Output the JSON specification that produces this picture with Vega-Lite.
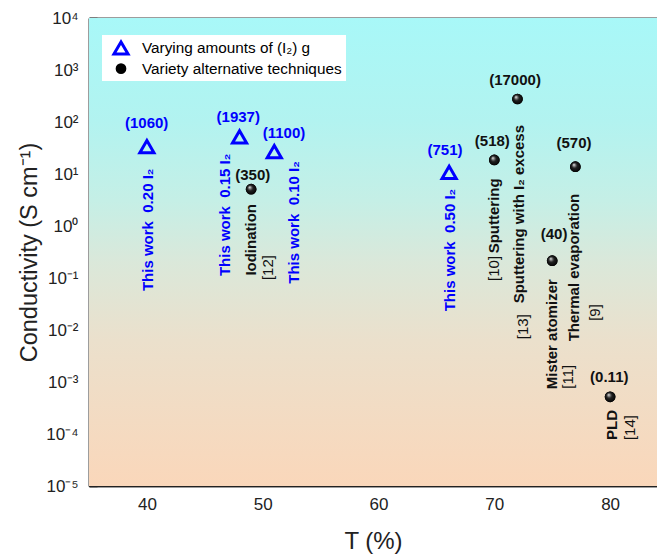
{
  "$schema": "https://vega.github.io/schema/vega-lite/v6.json",
  "width": 568,
  "height": 468,
  "autosize": {"type": "none"},
  "padding": {"left": 89, "top": 18, "right": 0, "bottom": 70},
  "config": {
    "font": "Liberation Sans",
    "view": {"stroke": null},
    "axis": {"domainColor": "#222222", "domainWidth": 1.5, "tickColor": "#222222", "tickWidth": 1.5, "grid": false, "labelColor": "#222222", "titleColor": "#222222"},
    "legend": {"orient": "none", "legendX": 13, "legendY": 17, "fillColor": "#ffffff", "padding": 4, "labelFontSize": 15.3, "symbolSize": 200, "rowPadding": 0, "labelLimit": 400, "labelOffset": 12, "symbolOffset": 6}
  },
  "datasets": {
    "points": [
      {"T": 40, "sigma": 33.5, "group": "Varying amounts of (I₂) g"},
      {"T": 48, "sigma": 52, "group": "Varying amounts of (I₂) g"},
      {"T": 51, "sigma": 27, "group": "Varying amounts of (I₂) g"},
      {"T": 66.1, "sigma": 10.8, "group": "Varying amounts of (I₂) g"},
      {"T": 49, "sigma": 5.1, "group": "Variety alternative techniques"},
      {"T": 70, "sigma": 18.6, "group": "Variety alternative techniques"},
      {"T": 72, "sigma": 277, "group": "Variety alternative techniques"},
      {"T": 75, "sigma": 0.215, "group": "Variety alternative techniques"},
      {"T": 77, "sigma": 13.8, "group": "Variety alternative techniques"},
      {"T": 80, "sigma": 0.00052, "group": "Variety alternative techniques"}
    ],
    "labels": [
      {"T": 40.12, "sigma": 0.845, "text": "This work\u00a0 0.20 I₂", "source": "this work", "role": "name"},
      {"T": 46.74, "sigma": 1.64, "text": "This work\u00a0 0.15 I₂", "source": "this work", "role": "name"},
      {"T": 52.7, "sigma": 1.17, "text": "This work\u00a0 0.10 I₂", "source": "this work", "role": "name"},
      {"T": 66.17, "sigma": 0.345, "text": "This work\u00a0 0.50 I₂", "source": "this work", "role": "name"},
      {"T": 48.96, "sigma": 0.543, "text": "Iodination", "source": "literature", "role": "name"},
      {"T": 69.97, "sigma": 1.57, "text": "Sputtering", "source": "literature", "role": "name"},
      {"T": 72.13, "sigma": 1.69, "text": "Sputtering with I₂ excess", "source": "literature", "role": "name"},
      {"T": 76.88, "sigma": 0.159, "text": "Thermal evaporation", "source": "literature", "role": "name"},
      {"T": 74.96, "sigma": 0.0083, "text": "Mister atomizer", "source": "literature", "role": "name"},
      {"T": 80.14, "sigma": 0.000149, "text": "PLD", "source": "literature", "role": "name"},
      {"T": 50.43, "sigma": 0.159, "text": "[12]", "source": "literature", "role": "ref"},
      {"T": 69.97, "sigma": 0.153, "text": "[10]", "source": "literature", "role": "ref"},
      {"T": 72.5, "sigma": 0.0116, "text": "[13]", "source": "literature", "role": "ref"},
      {"T": 78.7, "sigma": 0.0217, "text": "[9]", "source": "literature", "role": "ref"},
      {"T": 76.39, "sigma": 0.00126, "text": "[11]", "source": "literature", "role": "ref"},
      {"T": 81.72, "sigma": 0.000133, "text": "[14]", "source": "literature", "role": "ref"},
      {"T": 39.98, "sigma": 94.4, "text": "(1060)", "source": "this work", "role": "value"},
      {"T": 47.89, "sigma": 126, "text": "(1937)", "source": "this work", "role": "value"},
      {"T": 51.84, "sigma": 60.7, "text": "(1100)", "source": "this work", "role": "value"},
      {"T": 65.74, "sigma": 28.9, "text": "(751)", "source": "this work", "role": "value"},
      {"T": 49.14, "sigma": 9.57, "text": "(350)", "source": "literature", "role": "value"},
      {"T": 69.83, "sigma": 43.7, "text": "(518)", "source": "literature", "role": "value"},
      {"T": 71.79, "sigma": 643, "text": "(17000)", "source": "literature", "role": "value"},
      {"T": 76.88, "sigma": 38.9, "text": "(570)", "source": "literature", "role": "value"},
      {"T": 75.16, "sigma": 0.7, "text": "(40)", "source": "literature", "role": "value"},
      {"T": 79.93, "sigma": 0.00126, "text": "(0.11)", "source": "literature", "role": "value"}
    ]
  },
  "resolve": {"axis": {"x": "independent", "y": "independent"}},
  "layer": [
    {
      "data": {"values": [{}]},
      "mark": {"type": "rect", "fill": {"gradient": "linear", "x1": 0, "y1": 0, "x2": 0, "y2": 1, "stops": [
        {"offset": 0, "color": "#A8F8F8"},
        {"offset": 0.22, "color": "#B2F3F0"},
        {"offset": 0.39, "color": "#C5EFE6"},
        {"offset": 0.52, "color": "#DAE8DA"},
        {"offset": 0.69, "color": "#EBE0CC"},
        {"offset": 1, "color": "#FAD7BA"}
      ]}},
      "encoding": {
        "x": {"datum": 35, "type": "quantitative", "scale": {"domain": [35, 84.05], "nice": false, "zero": false},
          "axis": {"orient": "bottom", "values": [40, 50, 60, 70, 80], "tickSize": -8, "labelFontSize": 17, "labelPadding": 18, "title": "T (%)", "titleFontSize": 24, "titleFontWeight": "normal", "titlePadding": 17}},
        "x2": {"datum": 84.05},
        "y": {"datum": 0.00001, "type": "quantitative", "scale": {"type": "log", "domain": [0.00001, 10000], "nice": false},
          "axis": {"orient": "left", "values": [0.00001, 0.0001, 0.001, 0.01, 0.1, 1, 10, 100, 1000, 10000], "tickSize": -8, "labelFontSize": 17, "labelPadding": 19,
            "labelExpr": "'10' + (datum.value < 1 ? '⁻' : '') + ['⁰','¹','²','³','⁴','⁵'][abs(round(log(datum.value)/LN10))]",
            "title": "Conductivity (S cm⁻¹)", "titleFontSize": 23.5, "titleFontWeight": "normal", "titlePadding": 4}},
        "y2": {"datum": 10000}
      }
    },
    {
      "data": {"name": "points"},
      "mark": {"type": "point", "filled": true, "opacity": 1, "size": 200},
      "encoding": {
        "x": {"field": "T", "type": "quantitative", "scale": {"domain": [35, 84.05], "nice": false, "zero": false},
          "axis": {"orient": "bottom", "values": [45, 55, 65, 75], "tickSize": -5, "labels": false, "title": null}},
        "y": {"field": "sigma", "type": "quantitative", "scale": {"type": "log", "domain": [0.00001, 10000], "nice": false},
          "axis": {"orient": "left", "tickSize": -4, "tickWidth": 1, "labels": false, "title": null, "values": [
            2e-5,3e-5,4e-5,5e-5,6e-5,7e-5,8e-5,9e-5,
            2e-4,3e-4,4e-4,5e-4,6e-4,7e-4,8e-4,9e-4,
            0.002,0.003,0.004,0.005,0.006,0.007,0.008,0.009,
            0.02,0.03,0.04,0.05,0.06,0.07,0.08,0.09,
            0.2,0.3,0.4,0.5,0.6,0.7,0.8,0.9,
            2,3,4,5,6,7,8,9,
            20,30,40,50,60,70,80,90,
            200,300,400,500,600,700,800,900,
            2000,3000,4000,5000,6000,7000,8000,9000]}},
        "shape": {"field": "group", "type": "nominal", "scale": {"domain": ["Varying amounts of (I₂) g", "Variety alternative techniques"], "range": ["triangle-up", "circle"]},
          "legend": {"title": null, "encode": {
            "labels": {"update": {"fill": {"signal": "datum.value === 'Varying amounts of (I₂) g' ? '#0000FF' : '#111111'"}}},
            "symbols": {"update": {"fill": [{"test": "datum.value === 'Variety alternative techniques'", "value": {"gradient": "radial", "x1": 0.35, "y1": 0.3, "r1": 0, "x2": 0.5, "y2": 0.5, "r2": 0.55, "stops": [{"offset": 0, "color": "#ffffff"}, {"offset": 0.18, "color": "#999999"}, {"offset": 0.45, "color": "#222222"}, {"offset": 1, "color": "#000000"}]}}, {"value": "transparent"}]}}
          }}},
        "stroke": {"field": "group", "type": "nominal", "scale": {"domain": ["Varying amounts of (I₂) g", "Variety alternative techniques"], "range": ["#0000FF", "#000000"]}, "legend": {"title": null}},
        "fill": {"field": "group", "type": "nominal", "scale": {"domain": ["Varying amounts of (I₂) g", "Variety alternative techniques"], "range": ["transparent", "#000000"]}, "legend": {"title": null}},
        "strokeWidth": {"field": "group", "type": "ordinal", "scale": {"domain": ["Varying amounts of (I₂) g", "Variety alternative techniques"], "range": [3, 0]}, "legend": {"title": null}},
        "size": {"field": "group", "type": "ordinal", "scale": {"domain": ["Varying amounts of (I₂) g", "Variety alternative techniques"], "range": [200, 115]}, "legend": {"title": null}}
      }
    },
    {
      "data": {"name": "points"},
      "transform": [{"filter": "datum.group === 'Variety alternative techniques'"}],
      "mark": {"type": "point", "shape": "circle", "filled": true, "opacity": 1, "size": 115, "strokeWidth": 0,
        "fill": {"gradient": "radial", "x1": 0.35, "y1": 0.3, "r1": 0, "x2": 0.5, "y2": 0.5, "r2": 0.55, "stops": [{"offset": 0, "color": "#ffffff"}, {"offset": 0.18, "color": "#999999"}, {"offset": 0.45, "color": "#222222"}, {"offset": 1, "color": "#000000"}]}},
      "encoding": {
        "x": {"field": "T", "type": "quantitative", "scale": {"domain": [35, 84.05], "nice": false, "zero": false},
          "axis": {"orient": "top", "values": [40, 50, 60, 70, 80], "tickSize": -8, "labels": false, "title": null}},
        "y": {"field": "sigma", "type": "quantitative", "scale": {"type": "log", "domain": [0.00001, 10000], "nice": false}, "axis": null}
      }
    },
    {
      "data": {"name": "labels"},
      "transform": [{"filter": "datum.role === 'name' && datum.source === 'this work'"}],
      "mark": {"type": "text", "angle": 270, "align": "center", "baseline": "middle", "fontSize": 15, "fontWeight": "bold", "color": "#0000FF"},
      "encoding": {
        "x": {"field": "T", "type": "quantitative", "scale": {"domain": [35, 84.05], "nice": false, "zero": false},
          "axis": {"orient": "top", "values": [45, 55, 65, 75], "tickSize": -5, "labels": false, "title": null}},
        "y": {"field": "sigma", "type": "quantitative", "scale": {"type": "log", "domain": [0.00001, 10000], "nice": false}, "axis": null},
        "text": {"field": "text"}
      }
    },
    {
      "data": {"name": "labels"},
      "transform": [{"filter": "datum.role === 'name' && datum.source === 'literature'"}],
      "mark": {"type": "text", "angle": 270, "align": "center", "baseline": "middle", "fontSize": 15, "fontWeight": "bold", "color": "#111111"},
      "encoding": {
        "x": {"field": "T", "type": "quantitative", "scale": {"domain": [35, 84.05], "nice": false, "zero": false}, "axis": null},
        "y": {"field": "sigma", "type": "quantitative", "scale": {"type": "log", "domain": [0.00001, 10000], "nice": false}, "axis": null},
        "text": {"field": "text"}
      }
    },
    {
      "data": {"name": "labels"},
      "transform": [{"filter": "datum.role === 'ref'"}],
      "mark": {"type": "text", "angle": 270, "align": "center", "baseline": "middle", "fontSize": 15, "fontWeight": "normal", "color": "#111111"},
      "encoding": {
        "x": {"field": "T", "type": "quantitative", "scale": {"domain": [35, 84.05], "nice": false, "zero": false}, "axis": null},
        "y": {"field": "sigma", "type": "quantitative", "scale": {"type": "log", "domain": [0.00001, 10000], "nice": false}, "axis": null},
        "text": {"field": "text"}
      }
    },
    {
      "data": {"name": "labels"},
      "transform": [{"filter": "datum.role === 'value' && datum.source === 'this work'"}],
      "mark": {"type": "text", "align": "center", "baseline": "middle", "fontSize": 15, "fontWeight": "bold", "color": "#0000FF"},
      "encoding": {
        "x": {"field": "T", "type": "quantitative", "scale": {"domain": [35, 84.05], "nice": false, "zero": false}, "axis": null},
        "y": {"field": "sigma", "type": "quantitative", "scale": {"type": "log", "domain": [0.00001, 10000], "nice": false}, "axis": null},
        "text": {"field": "text"}
      }
    },
    {
      "data": {"name": "labels"},
      "transform": [{"filter": "datum.role === 'value' && datum.source === 'literature'"}],
      "mark": {"type": "text", "align": "center", "baseline": "middle", "fontSize": 15, "fontWeight": "bold", "color": "#111111"},
      "encoding": {
        "x": {"field": "T", "type": "quantitative", "scale": {"domain": [35, 84.05], "nice": false, "zero": false}, "axis": null},
        "y": {"field": "sigma", "type": "quantitative", "scale": {"type": "log", "domain": [0.00001, 10000], "nice": false}, "axis": null},
        "text": {"field": "text"}
      }
    }
  ]
}
